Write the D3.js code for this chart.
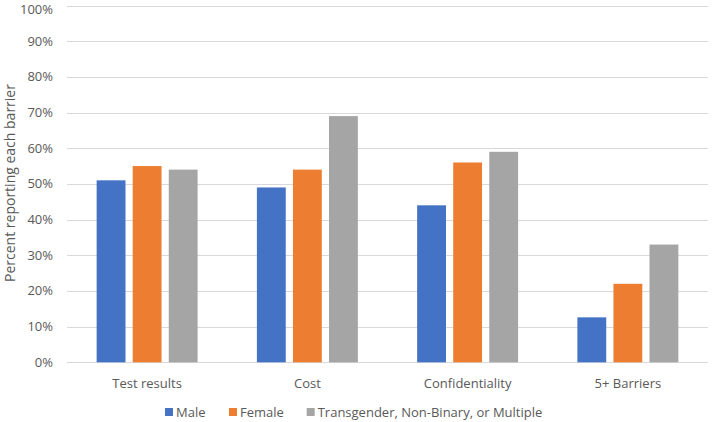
<!DOCTYPE html>
<html>
<head>
<meta charset="utf-8">
<script src="https://cdn.jsdelivr.net/npm/d3@7"></script>
<style>
  html, body { margin: 0; padding: 0; background: #fff; }
  svg { display: block; }
  text { font-family: "Open Sans", Lato, sans-serif; fill: #595959; }
</style>
</head>
<body>
<svg id="chart" width="712" height="422"></svg>
<script>
const categories = ["Test results", "Cost", "Confidentiality", "5+ Barriers"];
const seriesNames = ["Male", "Female", "Transgender, Non-Binary, or Multiple"];
const male = [51, 49, 44, 12.6];
const female = [55, 54, 56, 22];
const transgender = [54, 69, 59, 33];
const yTicks = [0, 10, 20, 30, 40, 50, 60, 70, 80, 90, 100];
const colors = ["#4472C4", "#ED7D31", "#A5A5A5"];

const seriesValues = [male, female, transgender];

const svg = d3.select("#chart");
const plotBottom = 362.3;

const x0 = d3.scaleBand().domain(categories).range([67, 708]).paddingInner(0.37).paddingOuter(0.185);
const x1 = d3.scaleBand().domain(seriesNames).range([0, x0.bandwidth()]).paddingInner(0.2);
const y = d3.scaleLinear().domain([0, 100]).range([plotBottom, 5.5]);

// gridlines
svg.append("g").selectAll("line").data(yTicks).join("line")
  .attr("x1", 67).attr("x2", 708)
  .attr("y1", d => Math.round(y(d)) + 0.5).attr("y2", d => Math.round(y(d)) + 0.5)
  .attr("stroke", "#D9D9D9").attr("stroke-width", 1);

// y tick labels
svg.append("g").selectAll("text").data(yTicks).join("text")
  .attr("x", 53).attr("y", d => Math.max(y(d), 9))
  .attr("dy", "0.35em").attr("text-anchor", "end")
  .style("font-size", "13px")
  .text(d => d + "%");

// bars
const groups = svg.append("g").selectAll("g").data(categories).join("g")
  .attr("transform", c => `translate(${x0(c)},0)`);
groups.selectAll("rect")
  .data((c, i) => seriesNames.map((s, j) => ({ s, j, v: seriesValues[j][i] })))
  .join("rect")
  .attr("x", d => x1(d.s))
  .attr("width", x1.bandwidth())
  .attr("y", d => y(d.v))
  .attr("height", d => y(0) - y(d.v))
  .attr("fill", d => colors[d.j]);

// x labels
svg.append("g").selectAll("text").data(categories).join("text")
  .attr("x", c => x0(c) + x0.bandwidth() / 2)
  .attr("y", 383).attr("dy", "0.35em")
  .attr("text-anchor", "middle")
  .style("font-size", "13px")
  .text(c => c);

// y title
svg.append("text")
  .attr("transform", "translate(10,183) rotate(-90)")
  .attr("dy", "0.35em")
  .attr("text-anchor", "middle")
  .style("font-size", "14px")
  .text("Percent reporting each barrier");

// legend
const legendX = [165, 229, 306.7];
const leg = svg.append("g").selectAll("g").data(seriesNames).join("g")
  .attr("transform", (d, i) => `translate(${legendX[i]},408)`);
leg.append("rect").attr("width", 8).attr("height", 8).attr("fill", (d, i) => colors[i]);
leg.append("text").attr("x", 11).attr("y", 4).attr("dy", "0.35em")
  .style("font-size", "13px").text(d => d);
</script>
</body>
</html>
